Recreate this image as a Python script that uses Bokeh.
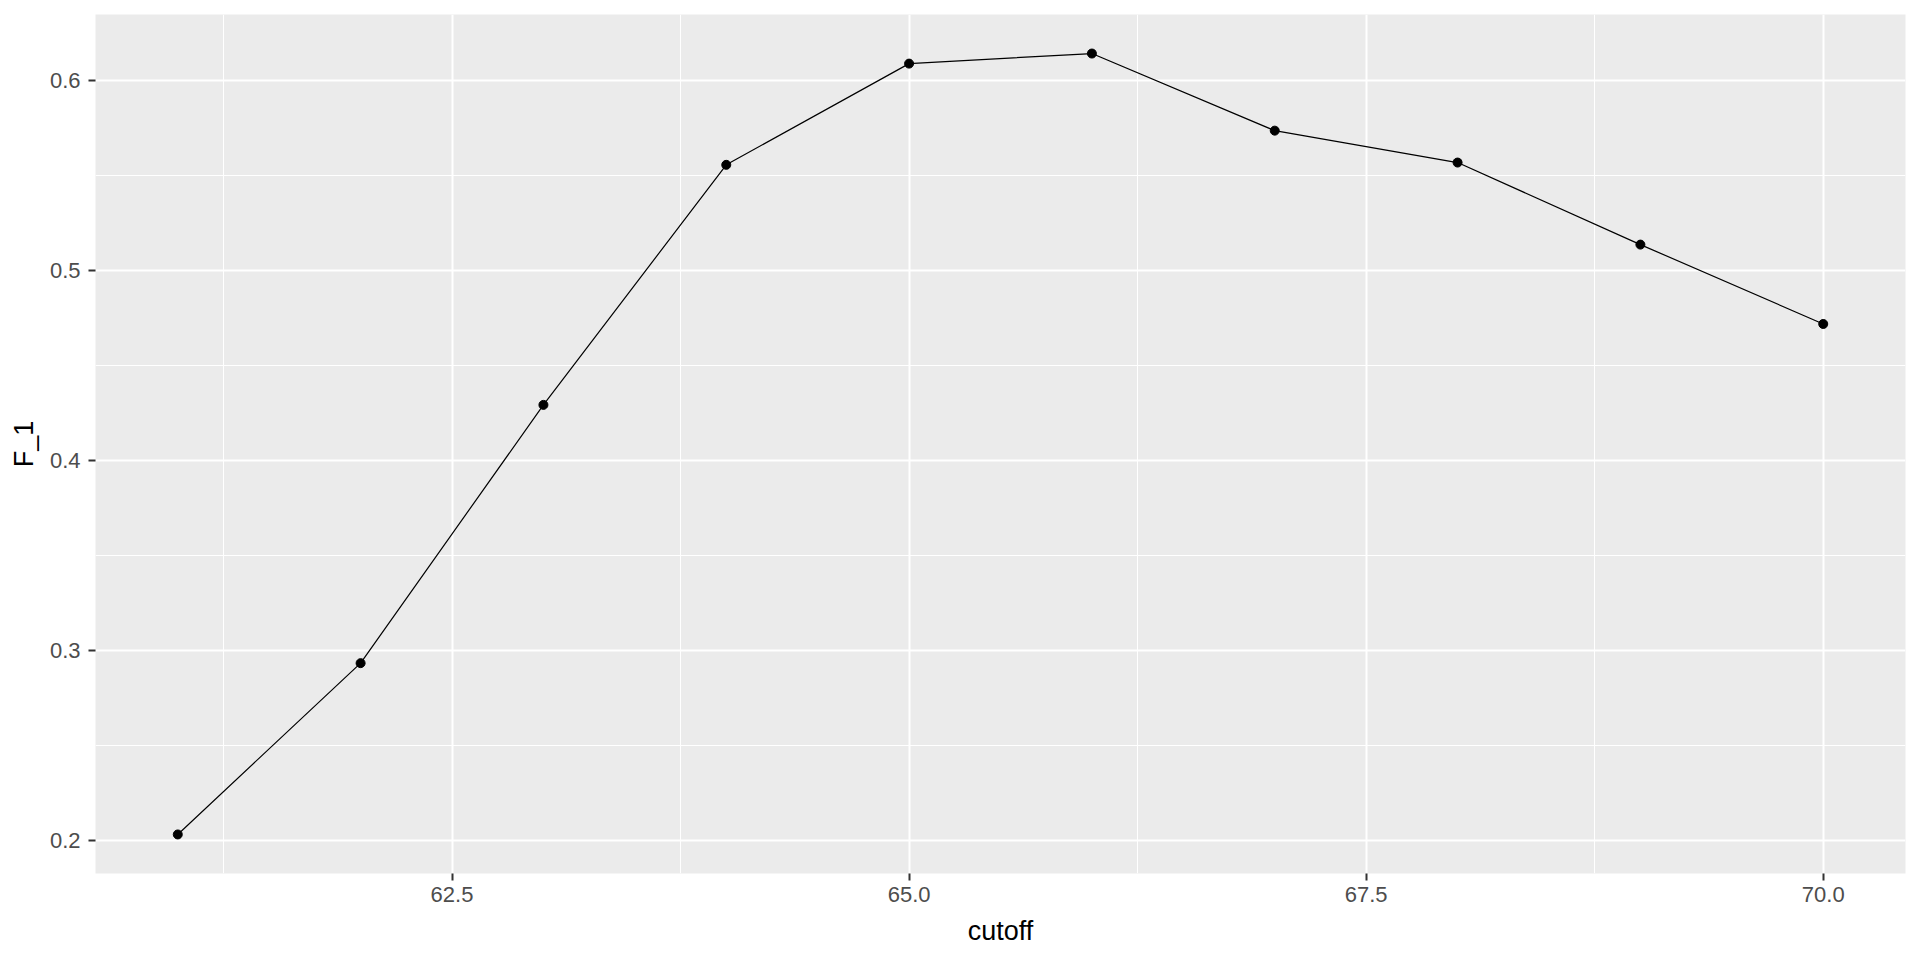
from bokeh.plotting import figure
from bokeh.models import Range1d, FixedTicker, PrintfTickFormatter
from bokeh.embed import file_html
from bokeh.resources import INLINE

cutoff = [61, 62, 63, 64, 65, 66, 67, 68, 69, 70]
f_1 = [0.2032, 0.2934, 0.4294, 0.5558, 0.6091, 0.6144, 0.5738, 0.5570, 0.5138, 0.4720]
x_ticks = [62.5, 65.0, 67.5, 70.0]
x_minor = [61.25, 63.75, 66.25, 68.75]
y_ticks = [0.2, 0.3, 0.4, 0.5, 0.6]
y_minor = [0.25, 0.35, 0.45, 0.55]

FONT = "Liberation Sans"

xpad = (max(cutoff) - min(cutoff)) * 0.05
ypad = (max(f_1) - min(f_1)) * 0.05

p = figure(width=1910, height=948, output_backend="svg", toolbar_location=None,
           x_range=Range1d(min(cutoff) - xpad, max(cutoff) + xpad),
           y_range=Range1d(min(f_1) - ypad, max(f_1) + ypad),
           min_border_left=95, min_border_right=5, min_border_top=14, min_border_bottom=75)

p.background_fill_color = "#EBEBEB"
p.border_fill_color = "white"
p.outline_line_color = None

p.xaxis.ticker = FixedTicker(ticks=x_ticks, minor_ticks=x_minor)
p.yaxis.ticker = FixedTicker(ticks=y_ticks, minor_ticks=y_minor)
p.xaxis.formatter = PrintfTickFormatter(format="%.1f")
p.yaxis.formatter = PrintfTickFormatter(format="%.1f")

for ax in (p.xaxis, p.yaxis):
    ax.axis_line_color = None
    ax.major_tick_line_color = "#333333"
    ax.major_tick_line_width = 2
    ax.major_tick_out = 7
    ax.major_tick_in = 0
    ax.minor_tick_line_color = None
    ax.major_label_text_font = FONT
    ax.major_label_text_font_size = "22px"
    ax.major_label_text_color = "#4D4D4D"
    ax.axis_label_text_font = FONT
    ax.axis_label_text_font_size = "27px"
    ax.axis_label_text_font_style = "normal"
    ax.axis_label_text_color = "black"

p.xaxis.major_label_standoff = 6
p.yaxis.major_label_standoff = 8
p.xaxis.axis_label = "cutoff"
p.yaxis.axis_label = "F_1"
p.xaxis.axis_label_standoff = 11
p.yaxis.axis_label_standoff = 8

p.grid.grid_line_color = "white"
p.grid.grid_line_width = 2
p.grid.minor_grid_line_color = "white"
p.grid.minor_grid_line_width = 1

p.line(cutoff, f_1, line_color="black", line_width=1.2)
p.scatter(cutoff, f_1, size=9, fill_color="black", line_color="black")

open("out.html", "w").write(file_html(p, INLINE))
